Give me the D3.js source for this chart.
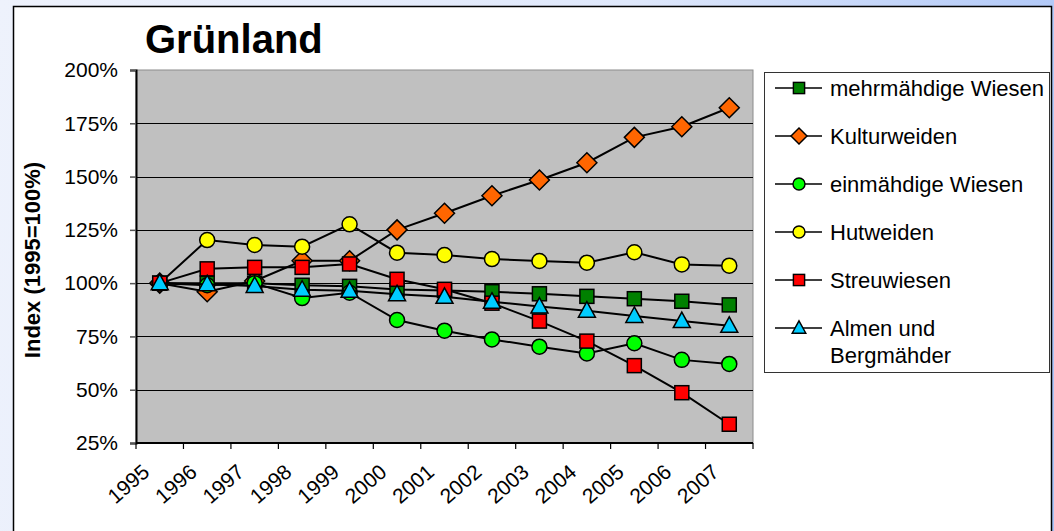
<!DOCTYPE html>
<html>
<head>
<meta charset="utf-8">
<script src="https://cdn.jsdelivr.net/npm/d3@7"></script>
<style>
  html, body { margin: 0; padding: 0; }
  body {
    width: 1054px; height: 531px; overflow: hidden;
    background: linear-gradient(100deg, #eef2fc 0%, #dfe8fb 55%, #a9c3f7 100%);
    font-family: "Liberation Sans", Arial, sans-serif;
  }
  svg { display: block; }
</style>
</head>
<body>
<svg id="chart" width="1054" height="531"></svg>
<script>
// categories
const years = ['1995','1996','1997','1998','1999','2000','2001','2002','2003','2004','2005','2006','2007'];

// series values, index 1995 = 100
const mehrmaehdig = [100, 100, 100, 99, 98.5, 97, 96.5, 96, 95, 93.8, 92.7, 91.5, 89.8];
const kulturweiden = [100, 96, 101, 110.5, 110.5, 125, 132.8, 141, 148.4, 156.5, 168.4, 173.4, 182.3];
const einmaehdig = [100, 99, 100, 93, 95.5, 82.7, 77.7, 73.6, 70.2, 67, 71.8, 64, 62.1];
const hutweiden = [100, 120.2, 117.9, 117.1, 127.6, 114.3, 113.2, 111.3, 110.4, 109.6, 114.5, 108.8, 108.2];
const streuwiesen = [100, 106.7, 107.4, 107.4, 109, 101.8, 97.1, 90.6, 82.2, 72.8, 61.3, 48.6, 33.8];
const almen = [100, 99.5, 98.7, 96.9, 96.4, 94.8, 93.6, 91.3, 89, 87.1, 84.6, 82.2, 80];

// tick labels
const yTicks = [25, 50, 75, 100, 125, 150, 175, 200];

const seriesNames = ['mehrmähdige Wiesen', 'Kulturweiden', 'einmähdige Wiesen', 'Hutweiden', 'Streuwiesen', 'Almen und Bergmähder'];

const series = [
  {name: seriesNames[0], values: mehrmaehdig, shape: 'square', fill: '#008000'},
  {name: seriesNames[1], values: kulturweiden, shape: 'diamond', fill: '#ff6600'},
  {name: seriesNames[2], values: einmaehdig, shape: 'circle', fill: '#00ff00'},
  {name: seriesNames[3], values: hutweiden, shape: 'circle', fill: '#ffff00'},
  {name: seriesNames[4], values: streuwiesen, shape: 'square', fill: '#ff0000'},
  {name: seriesNames[5], values: almen, shape: 'triangle', fill: '#00ccff'}
];

const svg = d3.select('#chart');

// white chart box
svg.append('rect')
  .attr('x', 13.5).attr('y', 6.5)
  .attr('width', 1038).attr('height', 540)
  .attr('fill', '#fff')
  .attr('stroke', '#000')
  .attr('stroke-width', 1.5);

const plotLeft = 136, plotRight = 753, plotTop = 70, plotBottom = 443;

const x = d3.scaleBand().domain(years).range([plotLeft, plotRight]).paddingInner(0).paddingOuter(0);
const y = d3.scaleLinear().domain([25, 200]).range([plotBottom, plotTop]);

// plot area
svg.append('rect')
  .attr('x', plotLeft).attr('y', plotTop)
  .attr('width', plotRight - plotLeft).attr('height', plotBottom - plotTop)
  .attr('fill', '#c0c0c0')
  .attr('stroke', '#8c8c8c')
  .attr('stroke-width', 1);

// gridlines
svg.append('g')
  .selectAll('line')
  .data(yTicks.filter(d => d > 25 && d < 200))
  .join('line')
  .attr('x1', plotLeft).attr('x2', plotRight)
  .attr('y1', d => Math.round(y(d)) + 0.5).attr('y2', d => Math.round(y(d)) + 0.5)
  .attr('stroke', '#000')
  .attr('stroke-width', 1);

// y axis
const yAxis = svg.append('g')
  .attr('transform', `translate(${plotLeft},0)`)
  .call(d3.axisLeft(y).tickValues(yTicks).tickSize(6).tickPadding(12).tickFormat(d => d + '%'));
yAxis.select('.domain').attr('stroke', '#000').attr('stroke-width', 2);
yAxis.selectAll('.tick line').attr('stroke', '#555').attr('stroke-width', 1.5);
yAxis.selectAll('.tick text')
  .attr('font-size', 21)
  .attr('font-family', '"Liberation Sans", Arial, sans-serif')
  .attr('fill', '#000');

// x axis, ticks between the categories
const xTickPos = years.map(d => x(d)).concat([plotRight]);
svg.append('line')
  .attr('x1', plotLeft).attr('x2', plotRight)
  .attr('y1', plotBottom).attr('y2', plotBottom)
  .attr('stroke', '#000').attr('stroke-width', 2);
svg.append('g')
  .selectAll('line')
  .data(xTickPos)
  .join('line')
  .attr('x1', d => d).attr('x2', d => d)
  .attr('y1', plotBottom).attr('y2', plotBottom + 6)
  .attr('stroke', '#000').attr('stroke-width', 1.2);

svg.append('g')
  .selectAll('text')
  .data(years)
  .join('text')
  .attr('transform', d => `translate(${x(d) + x.bandwidth() / 2 - 9},${plotBottom + 31}) rotate(-41)`)
  .attr('text-anchor', 'end')
  .attr('font-size', 21)
  .attr('fill', '#000')
  .text(d => d);

// markers
function marker(sel, shape) {
  if (shape === 'square') {
    sel.append('rect').attr('x', -7).attr('y', -7).attr('width', 14).attr('height', 14);
  } else if (shape === 'diamond') {
    sel.append('path').attr('d', 'M0,-10L10,0L0,10L-10,0Z');
  } else if (shape === 'circle') {
    sel.append('circle').attr('r', 7.5);
  } else if (shape === 'triangle') {
    sel.append('path').attr('d', 'M0,-9L8.5,6.5L-8.5,6.5Z');
  }
}

const line = d3.line()
  .x((d, i) => x(years[i]) + x.bandwidth() / 2)
  .y(d => y(d));

series.forEach(s => {
  const g = svg.append('g');
  g.append('path')
    .attr('d', line(s.values))
    .attr('fill', 'none')
    .attr('stroke', '#000')
    .attr('stroke-width', 2);
  g.selectAll('g.m')
    .data(s.values)
    .join('g')
    .attr('class', 'm')
    .attr('transform', (d, i) => `translate(${x(years[i]) + x.bandwidth() / 2},${y(d)})`)
    .each(function() { marker(d3.select(this), s.shape); })
    .selectAll('*')
    .attr('fill', s.fill)
    .attr('stroke', '#000')
    .attr('stroke-width', 1.5);
});

// title
svg.append('text')
  .attr('x', 145).attr('y', 53)
  .attr('font-size', 40)
  .attr('font-weight', 'bold')
  .attr('fill', '#000')
  .text('Grünland');

// y axis title
svg.append('text')
  .attr('transform', `translate(40,260) rotate(-90)`)
  .attr('text-anchor', 'middle')
  .attr('font-size', 22)
  .attr('font-weight', 'bold')
  .attr('fill', '#000')
  .text('Index (1995=100%)');

// legend
const legend = svg.append('g');
legend.append('rect')
  .attr('x', 764.5).attr('y', 72.5)
  .attr('width', 285).attr('height', 300)
  .attr('fill', '#fff')
  .attr('stroke', '#333')
  .attr('stroke-width', 1);

const rowY = [88, 136, 184, 232, 280, 328];
series.forEach((s, i) => {
  const g = legend.append('g').attr('transform', `translate(0,${rowY[i]})`);
  g.append('line')
    .attr('x1', 775).attr('x2', 822)
    .attr('y1', 0).attr('y2', 0)
    .attr('stroke', '#000').attr('stroke-width', 1.5);
  const m = g.append('g').attr('transform', 'translate(799,0) scale(0.8)');
  marker(m, s.shape);
  m.selectAll('*').attr('fill', s.fill).attr('stroke', '#000').attr('stroke-width', 1.8);
  const lines = i === 5 ? ['Almen und', 'Bergmähder'] : [s.name];
  lines.forEach((t, k) => {
    g.append('text')
      .attr('x', 830).attr('y', k * 27)
      .attr('dy', '0.36em')
      .attr('font-size', 22)
      .attr('fill', '#000')
      .text(t);
  });
});
</script>
</body>
</html>
